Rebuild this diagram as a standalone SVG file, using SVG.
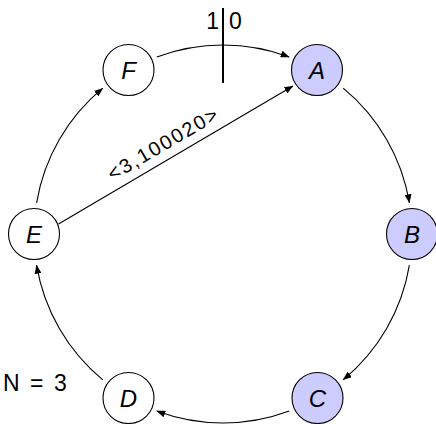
<svg xmlns="http://www.w3.org/2000/svg" width="436" height="424" viewBox="0 0 436 424">
<style>
.node circle{stroke:#000;stroke-width:1.1}
.white{fill:#fff}
.blue{fill:#ccccff}
.lbl{font-family:"Liberation Sans",Arial,sans-serif;font-style:italic;font-size:24px;text-anchor:middle;fill:#000}
.txt{font-family:"Liberation Sans",Arial,sans-serif;font-size:23px;fill:#000}
.elbl{font-family:"Liberation Sans",Arial,sans-serif;font-size:20px;fill:#000;text-anchor:middle}
.edge{fill:none;stroke:#000;stroke-width:1.1}
</style>
<defs>
<marker id="ah" markerWidth="9" markerHeight="7" refX="8.5" refY="3.5" orient="auto" markerUnits="userSpaceOnUse">
<path d="M0,0 L9,3.5 L0,7 z" fill="#000"/>
</marker>
</defs>
<rect width="436" height="424" fill="#fff"/>
<g id="connectors">
<path class="edge" d="M156.8,57 A189,189 0 0 1 289.2,57" marker-end="url(#ah)"/>
<path class="edge" d="M343.2,88.2 A189,189 0 0 1 409.4,202.8" marker-end="url(#ah)"/>
<path class="edge" d="M409.4,265.2 A189,189 0 0 1 343.2,379.8" marker-end="url(#ah)"/>
<path class="edge" d="M289.2,411 A189,189 0 0 1 156.8,411" marker-end="url(#ah)"/>
<path class="edge" d="M102.8,379.8 A189,189 0 0 1 36.6,265.2" marker-end="url(#ah)"/>
<path class="edge" d="M36.6,202.8 A189,189 0 0 1 102.8,88.2" marker-end="url(#ah)"/>
<path class="edge" d="M58.5,224 L293,86" marker-end="url(#ah)"/>
<text class="elbl" transform="translate(166,150) rotate(-30.4)" x="0" y="0" textLength="124" lengthAdjust="spacing">&lt;3,100020&gt;</text>
</g>
<g id="cut">
<line x1="223" y1="8" x2="223" y2="83" stroke="#000" stroke-width="2"/>
<text class="txt" x="219" y="29" text-anchor="end">1</text>
<text class="txt" x="229" y="29">0</text>
</g>
<g id="nodeA" class="node"><circle class="blue" cx="317" cy="70" r="25.5"/><text class="lbl" x="317" y="79">A</text></g>
<g id="nodeB" class="node"><circle class="blue" cx="412" cy="234" r="25.5"/><text class="lbl" x="412" y="243">B</text></g>
<g id="nodeC" class="node"><circle class="blue" cx="317.5" cy="398" r="25.5"/><text class="lbl" x="317.5" y="407">C</text></g>
<g id="nodeD" class="node"><circle class="white" cx="128.5" cy="398" r="25.5"/><text class="lbl" x="128.5" y="407">D</text></g>
<g id="nodeE" class="node"><circle class="white" cx="34" cy="234" r="25.5"/><text class="lbl" x="34" y="243">E</text></g>
<g id="nodeF" class="node"><circle class="white" cx="128.5" cy="70" r="25.5"/><text class="lbl" x="128.5" y="79">F</text></g>
<g id="note">
<text class="txt" y="391"><tspan x="3">N</tspan><tspan x="30">=</tspan><tspan x="54">3</tspan></text>
</g>
</svg>
